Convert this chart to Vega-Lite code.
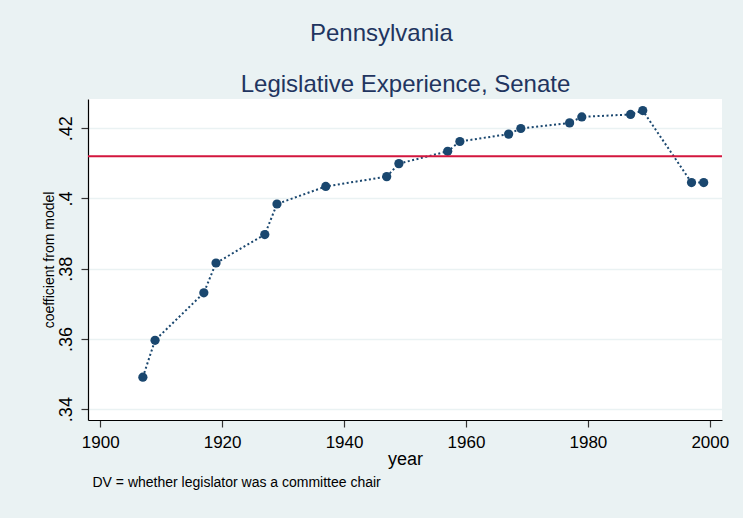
{
  "$schema": "https://vega.github.io/schema/vega-lite/v6.json",
  "width": 634,
  "height": 321,
  "autosize": {"type": "none"},
  "padding": {"left": 88, "top": 99, "right": 21, "bottom": 98},
  "background": "#eaf2f3",
  "title": {
    "text": "Pennsylvania",
    "anchor": "middle",
    "frame": "bounds",
    "font": "Liberation Sans",
    "fontSize": 24,
    "fontWeight": "normal",
    "color": "#1f3560",
    "baseline": "alphabetic",
    "offset": 7,
    "dx": -4
  },
  "config": {
    "view": {"fill": "white", "stroke": null},
    "font": "Liberation Sans",
    "axis": {
      "labelFont": "Liberation Sans",
      "titleFont": "Liberation Sans",
      "labelColor": "#000000",
      "titleColor": "#000000",
      "titleFontWeight": "normal",
      "domainColor": "#000000",
      "tickColor": "#333333",
      "domainWidth": 1.2,
      "tickWidth": 1.2
    }
  },
  "datasets": {
    "coef": [
      {"year": 1907, "coef": 0.3491},
      {"year": 1909, "coef": 0.3596},
      {"year": 1917, "coef": 0.3731},
      {"year": 1919, "coef": 0.3816},
      {"year": 1927, "coef": 0.3897},
      {"year": 1929, "coef": 0.3984},
      {"year": 1937, "coef": 0.4034},
      {"year": 1947, "coef": 0.4062},
      {"year": 1949, "coef": 0.4099},
      {"year": 1957, "coef": 0.4134},
      {"year": 1959, "coef": 0.4162},
      {"year": 1967, "coef": 0.4183},
      {"year": 1969, "coef": 0.4199},
      {"year": 1977, "coef": 0.4215},
      {"year": 1979, "coef": 0.4232},
      {"year": 1987, "coef": 0.4239},
      {"year": 1989, "coef": 0.4250},
      {"year": 1997, "coef": 0.4045},
      {"year": 1999, "coef": 0.4045}
    ],
    "reference": [
      {"ref": 0.412}
    ]
  },
  "layer": [
    {
      "data": {"name": "coef"},
      "mark": {"type": "line", "color": "#1a476f", "strokeWidth": 2, "strokeDash": [2, 2.5]},
      "encoding": {
        "x": {
          "field": "year",
          "type": "quantitative",
          "scale": {"domain": [1898, 2002], "nice": false, "zero": false},
          "axis": {
            "orient": "bottom",
            "values": [1900, 1920, 1940, 1960, 1980, 2000],
            "format": "d",
            "grid": false,
            "labelFontSize": 17,
            "labelPadding": 7,
            "tickSize": 7,
            "title": "year",
            "titleFontSize": 18,
            "titlePadding": 0
          }
        },
        "y": {
          "field": "coef",
          "type": "quantitative",
          "scale": {"domain": [0.3369, 0.4283], "nice": false, "zero": false},
          "axis": {
            "values": [0.34, 0.36, 0.38, 0.40, 0.42],
            "labelExpr": "replace(format(datum.value, '.2~f'), '0.', '.')",
            "labelAngle": -90,
            "labelAlign": "center",
            "labelBaseline": "bottom",
            "labelFontSize": 18,
            "labelPadding": 6,
            "tickSize": 7,
            "grid": true,
            "gridColor": "#eaf2f3",
            "gridWidth": 1.5,
            "title": "coefficient from model",
            "titleFontSize": 14,
            "titlePadding": 1
          }
        }
      }
    },
    {
      "data": {"name": "coef"},
      "mark": {"type": "point", "filled": true, "size": 85, "color": "#1a476f", "opacity": 1},
      "encoding": {
        "x": {
          "field": "year",
          "type": "quantitative",
          "axis": {
            "orient": "top",
            "labels": false,
            "ticks": false,
            "domain": false,
            "grid": false,
            "title": "Legislative Experience, Senate",
            "titleFontSize": 24,
            "titleColor": "#1f3560",
            "titleBaseline": "alphabetic",
            "titlePadding": 8
          }
        },
        "y": {
          "field": "coef",
          "type": "quantitative"
        }
      }
    },
    {
      "data": {"name": "reference"},
      "mark": {"type": "rule", "color": "#d3163e", "strokeWidth": 2},
      "encoding": {
        "x": {
          "datum": 1898,
          "type": "quantitative",
          "axis": {
            "orient": "bottom",
            "labels": false,
            "ticks": false,
            "domain": false,
            "grid": false,
            "title": "DV = whether legislator was a committee chair",
            "titleFontSize": 14,
            "titleAnchor": "start",
            "titleAlign": "left",
            "titleX": 4,
            "titlePadding": 55
          }
        },
        "x2": {"datum": 2002},
        "y": {"field": "ref", "type": "quantitative"}
      }
    }
  ],
  "resolve": {"axis": {"x": "independent"}}
}
